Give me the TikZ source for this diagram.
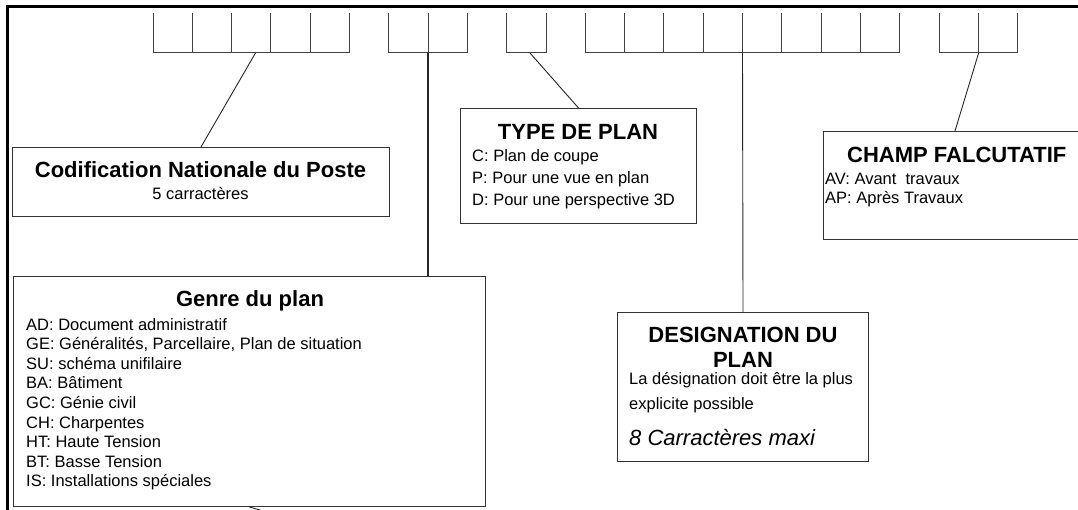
\documentclass[tikz,border=0pt]{standalone}
\usepackage{fontspec}
\setmainfont{Liberation Sans}
\tikzset{
	box/.style={draw=black!80,line width=1pt,rectangle,inner sep=0pt,anchor=north west},
	head/.style={font=\fontsize{22}{26}\selectfont\bfseries,anchor=base,inner sep=0pt},
	entry/.style={font=\fontsize{16.5}{19.6}\selectfont,align=left,anchor=north west,inner sep=0pt},
	cell/.style={draw=black!75,line width=1pt},
	link/.style={draw=black!85,line width=0.9pt}
}

\begin{document}
\begin{tikzpicture}[x=1pt,y=-1pt]
	\useasboundingbox (0,0) rectangle (1078,510);
	\clip (0,0) rectangle (1078,510);
	\draw[line width=3pt] (7,512) -- (7,7) -- (1080,7);
	
	% code cells
	\foreach \a/\b in {0/5,6/8,9/10,11/19,20/22}{
		\draw[cell] ({153+39.3*\a},53) -- ({153+39.3*\b},53);
		\foreach \k in {\a,...,\b}
			\draw[cell] ({153+39.3*\k},13) -- ({153+39.3*\k},53);
	}
	\coordinate (cnpcode) at (255.5,53);
	\coordinate (genrecode) at (428.1,53);
	\coordinate (typecode) at (530,53);
	\coordinate (desigcode) at (742.5,53);
	\coordinate (champcode) at (978.6,53);
	
	% boxes
	\node[box,minimum width=377pt,minimum height=69pt] (cnp) at (12,147) {};
	\node[head] (cnptitle) at (200.5,177.5) {Codification Nationale du Poste};
	\node[entry,anchor=base] (cnpsub) at (200.5,200) {5 carractères};
	
	\node[box,minimum width=472pt,minimum height=230pt] (genre) at (13,276) {};
	\node[head] (genretitle) at (250,307) {Genre du plan};
	\node[entry] (genrelist) at (26,318) {AD: Document administratif\\GE: Généralités, Parcellaire, Plan de situation\\SU: schéma unifilaire\\BA: Bâtiment\\GC: Génie civil\\CH: Charpentes\\HT: Haute Tension\\BT: Basse Tension\\IS: Installations spéciales};
	
	\node[box,minimum width=236pt,minimum height=115pt] (type) at (460,108) {};
	\node[head] (typetitle) at (578,140) {TYPE DE PLAN};
	\node[entry,font=\fontsize{16.5}{22}\selectfont] (typelist) at (472,149) {C: Plan de coupe\\P: Pour une vue en plan\\D: Pour une perspective 3D};
	
	\node[box,minimum width=277pt,minimum height=108pt] (champ) at (822.5,131) {};
	\node[head,anchor=base west] (champtitle) at (847,163) {CHAMP FALCUTATIF};
	\node[entry,font=\fontsize{16.5}{18.5}\selectfont] (champlist) at (825,173) {AV: Avant\ \ travaux\\AP: Après Travaux};
	
	\node[box,minimum width=251pt,minimum height=149pt] (desig) at (617,312) {};
	\node[head] (desigtitle) at (743,342.5) {DESIGNATION DU};
	\node[head] (desigtitleb) at (743,367.5) {PLAN};
	\node[entry,font=\fontsize{16.5}{25}\selectfont] (desiglist) at (629,372.5) {La désignation doit être la plus\\explicite possible};
	\node[entry,font=\fontsize{22}{26}\selectfont\itshape,anchor=base west] (desigmax) at (629,445) {8 Carractères maxi};
	
	% links
	\coordinate (genreout) at (270,513);
	\draw[link] (cnpcode) -- (cnp.north);
	\draw[link,line width=2pt] (genrecode) -- (genrecode |- genre.north);
	\draw[link] (typecode) -- (type.north);
	\draw[link] (desigcode) -- (desig.north);
	\draw[link] (champcode) -- ([xshift=132.5pt]champ.north west);
	\draw[link] (genre.south) -- (genreout);
\end{tikzpicture}
\end{document}
